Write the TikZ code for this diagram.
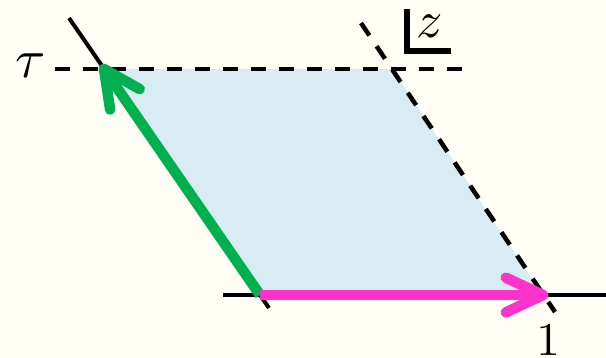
\documentclass[tikz,border=0pt]{standalone}
\usetikzlibrary{calc}
\definecolor{bg}{RGB}{255,255,245}
\definecolor{cellblue}{RGB}{216,236,242}
\definecolor{vgreen}{RGB}{0,176,80}
\definecolor{vpink}{RGB}{255,51,204}
\begin{document}
\begin{tikzpicture}[x=1pt,y=-1pt,
  solidline/.style={line width=4pt, black},
  dashline/.style={line width=4.5pt, black, dash pattern=on 15pt off 13pt},
  vecshaft/.style={line width=10.5pt, line cap=butt},
  vechead/.style={line width=10.5pt, line cap=round, line join=round},
  lbl/.style={inner sep=0pt, text=black}]
\useasboundingbox[fill=bg] (0,0) rectangle (606,358);
\coordinate (O) at (260,295);
\coordinate (One) at (543,295);
\coordinate (T1) at (392,69);
\coordinate (Tau) at (104,69);
\fill[cellblue] (O) -- (One) -- (T1) -- (Tau) -- cycle;
% lattice lines
\coordinate (lt) at (69,18);
\coordinate (lb) at (269,308);
\draw[solidline] (lt) -- (lb);
\coordinate (hl) at (223,295);
\coordinate (hr) at (606,295);
\draw[solidline] (hl) -- (hr);
\coordinate (dl) at (55,69);
\coordinate (dr) at (465,69);
\draw[dashline] (dl) -- (dr);
\coordinate (rt) at (361,23);
\coordinate (rb) at (555,312);
\draw[dashline] (rt) -- (rb);
% vectors
\draw[vecshaft, vgreen] (O) -- (Tau);
\draw[vechead, vgreen] ($(Tau)!41pt!26:(O)$) -- (Tau) -- ($(Tau)!41pt!-26:(O)$);
\draw[vecshaft, vpink] (O) -- (One);
\draw[vechead, vpink] ($(One)!41pt!25:(O)$) -- (One) -- ($(One)!41pt!-25:(O)$);
% labels
\node[lbl, scale=5.5] (taulbl) at (31,66) {$\tau$};
\node[lbl, scale=4.7] (onelbl) at (548,340) {$1$};
\node[lbl, scale=5.2] (zlbl) at (430,26) {$z$};
\coordinate (Lt) at (407,9);
\coordinate (Lc) at (407,51);
\coordinate (Lr) at (451,51);
\draw[line width=5.5pt] (Lt) -- (Lc) -- (Lr);
\end{tikzpicture}
\end{document}
